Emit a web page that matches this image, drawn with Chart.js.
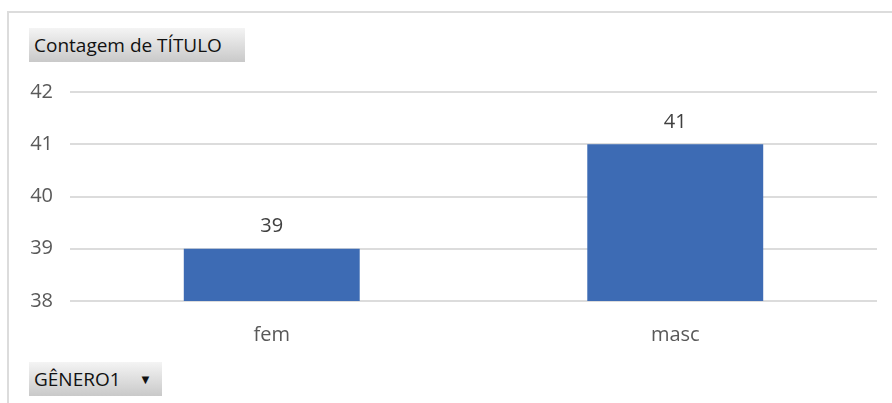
<!DOCTYPE html>
<html>
<head>
<meta charset="utf-8">
<script src="https://cdn.jsdelivr.net/npm/chart.js@4/dist/chart.umd.min.js"></script>
<style>
  body { margin: 0; background: #fff; font-family: "Open Sans", "Noto Sans", sans-serif; }
  #wrap { position: relative; width: 892px; height: 403px; }
  #frame { position: absolute; left: 7px; top: 11px; right: 0; bottom: 0;
           border-left: 2px solid #dcdcdc; border-top: 2px solid #dcdcdc; }
  canvas { position: absolute; left: 0; top: 0; }
  .btn { position: absolute; height: 34px; line-height: 34px; font-size: 19px; color: #111;
         background: linear-gradient(#f4f4f4, #c9c9c9); padding-left: 5px; box-sizing: border-box; }
  #title { left: 29px; top: 28px; width: 216px; }
  #field { left: 29px; top: 362px; width: 133px; }
  #field span { position: absolute; left: 110px; top: 0; font-size: 13px; }
</style>
</head>
<body>
<div id="wrap">
  <div id="frame"></div>
  <canvas id="chart" width="892" height="403"></canvas>
  <div class="btn" id="title">Contagem de TÍTULO</div>
  <div class="btn" id="field">GÊNERO1<span>▼</span></div>
</div>
<script>
const categories = ['fem', 'masc'];
const counts = [39, 41];
const yTicks = [38, 39, 40, 41, 42];

// values printed above each bar
const valueLabels = {
  id: 'valueLabels',
  afterDatasetsDraw(chart) {
    const ctx = chart.ctx;
    ctx.save();
    ctx.font = '20px "Open Sans", sans-serif';
    ctx.fillStyle = '#404040';
    ctx.textAlign = 'center';
    ctx.textBaseline = 'bottom';
    chart.getDatasetMeta(0).data.forEach((bar, i) => {
      ctx.fillText(counts[i], bar.x, bar.y - 12);
    });
    ctx.restore();
  }
};

new Chart(document.getElementById('chart'), {
  type: 'bar',
  data: {
    labels: categories,
    datasets: [{
      data: counts,
      backgroundColor: '#3D6BB4',
      categoryPercentage: 1,
      barPercentage: 0.436
    }]
  },
  options: {
    responsive: false,
    animation: false,
    layout: { padding: { left: 20, right: 15, top: 92, bottom: 42 } },
    plugins: { legend: { display: false }, tooltip: { enabled: false } },
    scales: {
      x: {
        grid: { display: false },
        border: { display: false },
        ticks: { color: '#595959', font: { size: 20, family: '"Open Sans", sans-serif' }, padding: 14 }
      },
      y: {
        min: 38,
        max: 42,
        afterFit(scale) { scale.width = 50; },
        afterBuildTicks(scale) { scale.ticks = yTicks.map(v => ({ value: v })); },
        grid: { color: '#dcdcdc', lineWidth: 2, drawTicks: false },
        border: { display: false },
        ticks: { color: '#595959', font: { size: 20, family: '"Open Sans", sans-serif' }, padding: 17 }
      }
    }
  },
  plugins: [valueLabels]
});
</script>
</body>
</html>
